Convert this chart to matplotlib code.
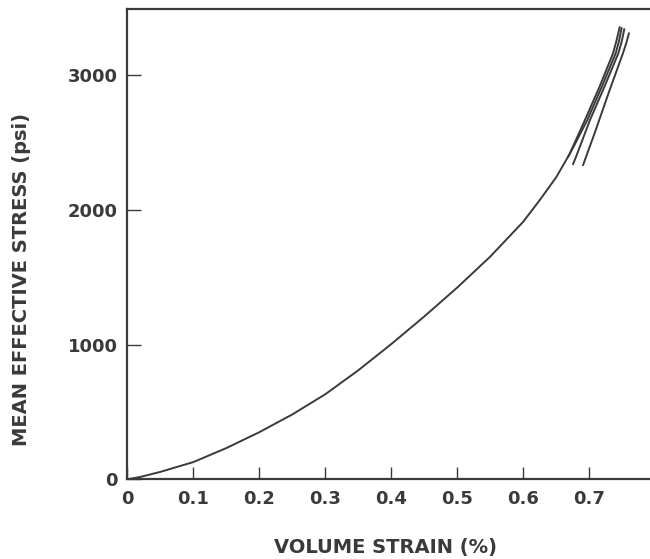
#!/usr/bin/python3

import matplotlib
matplotlib.use("Agg")
import matplotlib.pyplot as plt

#  Loading curve, volume strain (%) vs mean effective stress (psi)
strain_main = [0.0, 0.02, 0.05, 0.1, 0.15, 0.2, 0.25, 0.3, 0.35, 0.4, 0.45,
               0.5, 0.55, 0.6, 0.625, 0.65, 0.67, 0.693, 0.715, 0.736,
               0.741, 0.746]
stress_main = [0, 18, 55, 128, 232, 350, 482, 632, 810, 1005, 1210,
               1425, 1655, 1914, 2075, 2245, 2415, 2665, 2910, 3165,
               3255, 3358]

#  Reload branches near the top of the curve
strain_b1 = [0.668, 0.675, 0.697, 0.719, 0.740, 0.745, 0.749]
stress_b1 = [2397, 2460, 2669, 2917, 3165, 3255, 3352]

strain_b2 = [0.6755, 0.681, 0.701, 0.723, 0.744, 0.749, 0.753]
stress_b2 = [2342, 2410, 2669, 2917, 3165, 3250, 3343]

strain_b3 = [0.6906, 0.708, 0.730, 0.751, 0.756, 0.760]
stress_b3 = [2335, 2570, 2880, 3165, 3240, 3313]

x_ticks = [0, 0.1, 0.2, 0.3, 0.4, 0.5, 0.6, 0.7]
x_tick_labels = ['0', '0.1', '0.2', '0.3', '0.4', '0.5', '0.6', '0.7']
y_ticks = [0, 1000, 2000, 3000]
y_tick_labels = ['0', '1000', '2000', '3000']

ink = '#3a3a3a'

plt.rcParams['font.family'] = ['DejaVu Sans']
plt.rcParams['font.weight'] = 'bold'

fig = plt.figure(figsize=(6.5, 5.59), dpi=100)
ax = fig.add_axes([0.196, 0.1426, 0.804, 0.8413])

ax.plot(strain_main, stress_main, color=ink, lw=1.4)
ax.plot(strain_b1, stress_b1, color=ink, lw=1.4)
ax.plot(strain_b2, stress_b2, color=ink, lw=1.4)
ax.plot(strain_b3, stress_b3, color=ink, lw=1.4)

ax.set_xlim(0, 0.792)
ax.set_ylim(0, 3494)

ax.spines['right'].set_visible(False)
for side in ['left', 'bottom', 'top']:
  ax.spines[side].set_color(ink)
  ax.spines[side].set_linewidth(1.6)

ax.set_xticks(x_ticks)
ax.set_xticklabels(x_tick_labels, fontsize=13, fontweight='bold', color=ink)
ax.set_yticks(y_ticks)
ax.set_yticklabels(y_tick_labels, fontsize=13, fontweight='bold', color=ink)
ax.tick_params(axis='x', direction='in', length=8.5, width=1.0, color=ink, pad=8)
ax.tick_params(axis='y', direction='in', length=10, width=1.0, color=ink, pad=7)

fig.text(386 / 650, 1 - 548 / 559, 'VOLUME STRAIN (%)', ha='center', va='center',
         fontsize=14, fontweight='bold', color=ink)
fig.text(22 / 650, 1 - 279 / 559, 'MEAN EFFECTIVE STRESS (psi)', ha='center',
         va='center', rotation=90, fontsize=14, fontweight='bold', color=ink)

fig.savefig('out.png', dpi=100)
